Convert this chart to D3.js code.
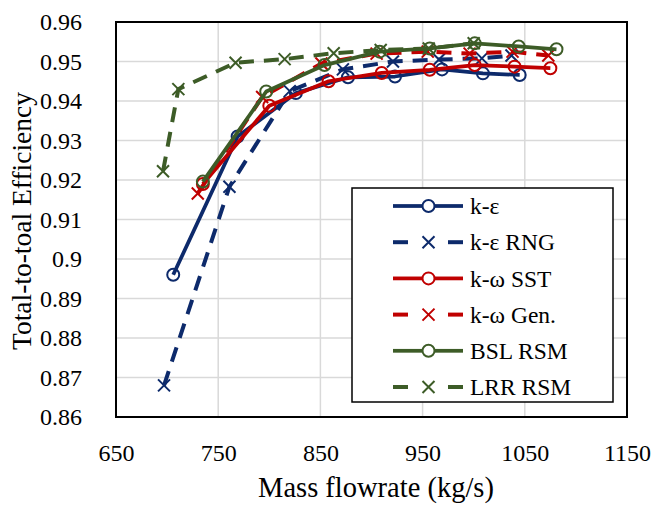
<!DOCTYPE html>
<html>
<head>
<meta charset="utf-8">
<script src="https://cdn.jsdelivr.net/npm/d3@7"></script>
<style>
  html, body { margin: 0; padding: 0; background: #fff; }
  svg { display: block; }
  svg text { font-family: "Liberation Serif", "Tinos", "Times New Roman", "DejaVu Serif", serif; }
</style>
</head>
<body>
<svg id="chart" width="655" height="506"></svg>
<script>
// ---- data ----
const seriesNames = ["k-ε", "k-ε RNG", "k-ω SST", "k-ω Gen.", "BSL RSM", "LRR RSM"];
const xKE    = [706, 769, 826, 877, 923, 969, 1009, 1045];
const yKE    = [0.896, 0.931, 0.942, 0.946, 0.9462, 0.948, 0.947, 0.9466];
const xKERNG = [697, 761, 820, 872, 921, 966, 1008, 1037];
const yKERNG = [0.868, 0.9183, 0.9425, 0.948, 0.950, 0.9505, 0.9508, 0.9515];
const xSST   = [735, 800, 858, 910, 957, 1001, 1040, 1075];
const ySST   = [0.919, 0.9388, 0.945, 0.9471, 0.9479, 0.9491, 0.9487, 0.9483];
const xGEN   = [730, 793, 851, 905, 955, 996, 1038, 1073];
const yGEN   = [0.9166, 0.941, 0.9495, 0.952, 0.9525, 0.952, 0.9525, 0.9515];
const xBSL   = [735, 797, 854, 908, 957, 1001, 1044, 1081];
const yBSL   = [0.9196, 0.9424, 0.9491, 0.9525, 0.9533, 0.9546, 0.9538, 0.9531];
const xLRR   = [696, 711, 767, 815, 863, 909, 956, 1000];
const yLRR   = [0.9222, 0.943, 0.9497, 0.9506, 0.9521, 0.9529, 0.9533, 0.9546];
const xTicks = [650, 750, 850, 950, 1050, 1150];
const yTicks = [0.86, 0.87, 0.88, 0.89, 0.9, 0.91, 0.92, 0.93, 0.94, 0.95, 0.96];
const xTitle = "Mass flowrate (kg/s)";
const yTitle = "Total-to-toal Efficiency";

const navy = "#0d2a6b", red = "#c00000", green = "#3d5c27";
const series = [
  { name: seriesNames[0], x: xKE,    y: yKE,    color: navy,  dashed: false, marker: "circle" },
  { name: seriesNames[1], x: xKERNG, y: yKERNG, color: navy,  dashed: true,  marker: "x" },
  { name: seriesNames[2], x: xSST,   y: ySST,   color: red,   dashed: false, marker: "circle" },
  { name: seriesNames[3], x: xGEN,   y: yGEN,   color: red,   dashed: true,  marker: "x" },
  { name: seriesNames[4], x: xBSL,   y: yBSL,   color: green, dashed: false, marker: "circle" },
  { name: seriesNames[5], x: xLRR,   y: yLRR,   color: green, dashed: true,  marker: "x" }
];

// ---- layout ----
const svg = d3.select("#chart");
const L = 116, T = 22, W = 511, H = 395;
const xScale = d3.scaleLinear().domain([650, 1150]).range([L, L + W]);
const yScale = d3.scaleLinear().domain([0.86, 0.96]).range([T + H, T]);

// grid
const grid = svg.append("g");
grid.selectAll("line.v").data(xTicks.slice(1, -1)).join("line")
  .attr("x1", d => xScale(d)).attr("x2", d => xScale(d))
  .attr("y1", T).attr("y2", T + H)
  .attr("stroke", "#d9d9d9").attr("stroke-width", 1.5);
grid.selectAll("line.h").data(yTicks.slice(1, -1)).join("line")
  .attr("y1", d => yScale(d)).attr("y2", d => yScale(d))
  .attr("x1", L).attr("x2", L + W)
  .attr("stroke", "#d9d9d9").attr("stroke-width", 1.5);

// axes (labels only)
const tickFont = 24;
const xAxis = d3.axisBottom(xScale).tickValues(xTicks).tickSize(0).tickPadding(0).tickFormat(d3.format("d"));
const gx = svg.append("g").attr("transform", `translate(0,${T + H})`).call(xAxis);
gx.attr("font-family", null);
gx.select(".domain").remove();
gx.selectAll("text").attr("font-size", tickFont).attr("fill", "#000")
  .attr("dy", null).attr("y", 44);

const yAxis = d3.axisLeft(yScale).tickValues(yTicks).tickSize(0).tickPadding(0).tickFormat(d => String(+d.toFixed(2)));
const gy = svg.append("g").attr("transform", `translate(82,0)`).call(yAxis);
gy.attr("font-family", null);
gy.select(".domain").remove();
gy.selectAll("text").attr("font-size", tickFont).attr("fill", "#000")
  .attr("x", 0).attr("dy", "0.33em");

// plot border
svg.append("rect").attr("x", L).attr("y", T).attr("width", W).attr("height", H)
  .attr("fill", "none").attr("stroke", "#000").attr("stroke-width", 2);

// series
const line = d3.line();
const markerSize = 6;
function drawMarker(g, type, cx, cy, color) {
  if (type === "circle") {
    g.append("circle").attr("cx", cx).attr("cy", cy).attr("r", markerSize)
      .attr("fill", "none").attr("stroke", color).attr("stroke-width", 2);
  } else {
    const s = markerSize;
    g.append("path").attr("d", `M${cx - s},${cy - s}L${cx + s},${cy + s}M${cx - s},${cy + s}L${cx + s},${cy - s}`)
      .attr("fill", "none").attr("stroke", color).attr("stroke-width", 2);
  }
}
series.forEach(s => {
  const g = svg.append("g");
  const pts = s.x.map((xv, i) => [xScale(xv), yScale(s.y[i])]);
  g.append("path").attr("d", line(pts)).attr("fill", "none")
    .attr("stroke", s.color).attr("stroke-width", s.dashed ? 4 : 3.75)
    .attr("stroke-dasharray", s.dashed ? "15,10" : null)
    .attr("stroke-linejoin", "round");
  pts.forEach(p => drawMarker(g, s.marker, p[0], p[1], s.color));
});

// legend
const lg = svg.append("g");
lg.append("rect").attr("x", 352).attr("y", 188).attr("width", 261).attr("height", 214)
  .attr("fill", "#fff").attr("stroke", "#000").attr("stroke-width", 1.5);
series.forEach((s, i) => {
  const cy = 206 + i * 36.2;
  const x1 = 393, x2 = 463, xm = 428.5;
  if (s.dashed) {
    lg.append("line").attr("x1", x1).attr("x2", x1 + 15).attr("y1", cy).attr("y2", cy)
      .attr("stroke", s.color).attr("stroke-width", 4);
    lg.append("line").attr("x1", x2 - 15).attr("x2", x2).attr("y1", cy).attr("y2", cy)
      .attr("stroke", s.color).attr("stroke-width", 4);
  } else {
    lg.append("line").attr("x1", x1).attr("x2", xm - markerSize).attr("y1", cy).attr("y2", cy)
      .attr("stroke", s.color).attr("stroke-width", 3.75);
    lg.append("line").attr("x1", xm + markerSize).attr("x2", x2).attr("y1", cy).attr("y2", cy)
      .attr("stroke", s.color).attr("stroke-width", 3.75);
  }
  drawMarker(lg, s.marker, xm, cy, s.color);
  lg.append("text").attr("x", 470).attr("y", cy).attr("dy", "0.35em")
    .attr("font-size", 23.5).attr("fill", "#000").text(s.name);
});

// axis titles
svg.append("text").attr("x", 376).attr("y", 497).attr("text-anchor", "middle")
  .attr("font-size", 28.5).attr("fill", "#000").text(xTitle);
svg.append("text").attr("transform", `translate(21,221) rotate(-90)`).attr("text-anchor", "middle")
  .attr("dy", "0.35em").attr("font-size", 27.5).attr("fill", "#000").text(yTitle);
</script>
</body>
</html>
